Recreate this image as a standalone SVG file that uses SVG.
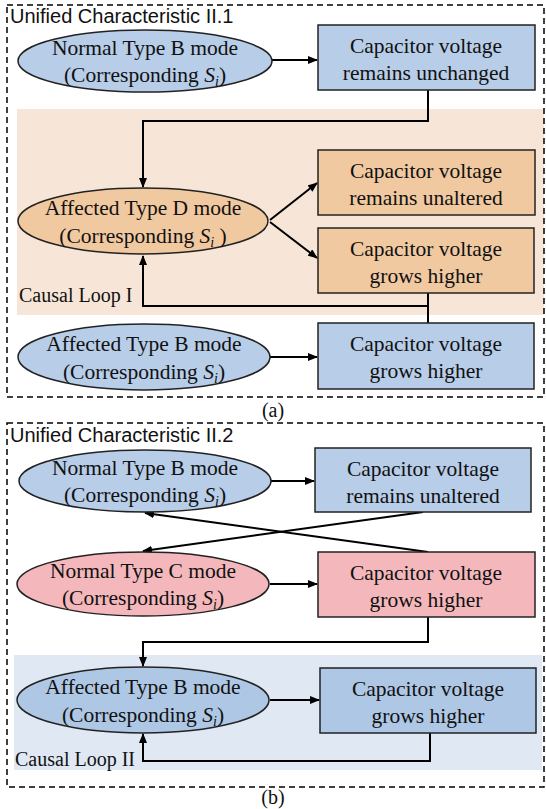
<svg xmlns="http://www.w3.org/2000/svg" width="546" height="809" viewBox="0 0 546 809">
<defs>
<marker id="ah" markerWidth="10" markerHeight="8" refX="9" refY="4" orient="auto" markerUnits="userSpaceOnUse">
<path d="M0,0 L10,4 L0,8 Z" fill="#000"/>
</marker>
<style>
.frame{fill:none;stroke:#000;stroke-width:1.5;stroke-dasharray:6,4}
.t{font-family:"Liberation Serif","Times New Roman",serif;font-size:21.5px;fill:#111;text-anchor:middle}
.lab{font-family:"Liberation Serif","Times New Roman",serif;font-size:20px;fill:#111}
.title{font-family:"Liberation Sans",Arial,sans-serif;font-size:20px;fill:#111}
.node{stroke:#222;stroke-width:1.5}
.blue{fill:#b8cde8}
.blue2{fill:#aec7e5}
.orange{fill:#f1c9a1}
.pink{fill:#f4b8bc}
.c{fill:none;stroke:#000;stroke-width:2}
.ca{fill:none;stroke:#000;stroke-width:2;marker-end:url(#ah)}
</style>
</defs>
<rect width="546" height="809" fill="#fff"/>

<!-- Panel (a) -->
<rect x="17" y="109" width="527" height="206" fill="#f7e6d8"/>
<rect class="frame" x="7" y="5" width="537" height="392"/>
<text class="title" x="10" y="23">Unified Characteristic II.1</text>
<text class="lab" x="19" y="302">Causal Loop I</text>
<text class="lab" x="273" y="417" text-anchor="middle" font-size="21">(a)</text>

<!-- Panel (b) -->
<rect x="14" y="655" width="528" height="115" fill="#dfe8f3"/>
<rect class="frame" x="7" y="423" width="537" height="364"/>
<text class="title" x="10" y="442">Unified Characteristic II.2</text>
<text class="lab" x="15" y="766">Causal Loop II</text>
<text class="lab" x="273" y="804" text-anchor="middle" font-size="21">(b)</text>

<g id="connectors">
<line class="ca" x1="272" y1="60" x2="317" y2="60"/>
<polyline class="ca" points="428,90 428,121 143,121 143,187"/>
<line class="ca" x1="270" y1="220" x2="317" y2="183"/>
<line class="ca" x1="270" y1="222" x2="317" y2="258"/>
<polyline class="ca" points="428,293 428,306 143,306 143,256"/>
<line class="c" x1="428" y1="306" x2="428" y2="323"/>
<line class="ca" x1="270" y1="357" x2="317" y2="357"/>

<line class="ca" x1="271" y1="481" x2="314" y2="481"/>
<line class="ca" x1="423" y1="512" x2="143" y2="551"/>
<line class="ca" x1="428" y1="552" x2="145" y2="513"/>
<line class="ca" x1="270" y1="584" x2="317" y2="584"/>
<polyline class="ca" points="428,617 428,642 143,642 143,666"/>
<line class="ca" x1="270" y1="700" x2="319" y2="700"/>
<polyline class="ca" points="430,733 430,761 143,761 143,734"/>
</g>

<g id="a-normalB">
<ellipse class="node blue" cx="145" cy="61" rx="127" ry="31"/>
<text class="t" x="145" y="55">Normal Type B mode</text>
<text class="t" x="145" y="82">(Corresponding <tspan font-style="italic">S</tspan><tspan font-style="italic" font-size="14" dy="4">i</tspan><tspan dy="-4">)</tspan></text>
</g>
<g id="a-box-unchanged">
<rect class="node blue" x="318" y="25" width="217" height="65"/>
<text class="t" x="426" y="53">Capacitor voltage</text>
<text class="t" x="426" y="80">remains unchanged</text>
</g>
<g id="a-affectedD">
<ellipse class="node orange" cx="143" cy="221" rx="125" ry="33"/>
<text class="t" x="143" y="215">Affected Type D mode</text>
<text class="t" x="143" y="243">(Corresponding <tspan font-style="italic">S</tspan><tspan font-style="italic" font-size="14" dy="4">i</tspan><tspan dy="-4"> )</tspan></text>
</g>
<g id="a-box-unaltered">
<rect class="node orange" x="318" y="150" width="217" height="65"/>
<text class="t" x="426" y="178">Capacitor voltage</text>
<text class="t" x="426" y="205">remains unaltered</text>
</g>
<g id="a-box-grows1">
<rect class="node orange" x="318" y="228" width="216" height="65"/>
<text class="t" x="426" y="256">Capacitor voltage</text>
<text class="t" x="426" y="283">grows higher</text>
</g>
<g id="a-affectedB">
<ellipse class="node blue" cx="144" cy="357" rx="126" ry="33"/>
<text class="t" x="144" y="351">Affected Type B mode</text>
<text class="t" x="144" y="379">(Corresponding <tspan font-style="italic">S</tspan><tspan font-style="italic" font-size="14" dy="4">i</tspan><tspan dy="-4">)</tspan></text>
</g>
<g id="a-box-grows2">
<rect class="node blue" x="318" y="323" width="216" height="66"/>
<text class="t" x="426" y="351">Capacitor voltage</text>
<text class="t" x="426" y="378">grows higher</text>
</g>

<g id="b-normalB">
<ellipse class="node blue" cx="145" cy="481" rx="126" ry="31"/>
<text class="t" x="145" y="475">Normal Type B mode</text>
<text class="t" x="145" y="502">(Corresponding <tspan font-style="italic">S</tspan><tspan font-style="italic" font-size="14" dy="4">i</tspan><tspan dy="-4">)</tspan></text>
</g>
<g id="b-box-unaltered">
<rect class="node blue" x="315" y="448" width="216" height="64"/>
<text class="t" x="423" y="476">Capacitor voltage</text>
<text class="t" x="423" y="503">remains unaltered</text>
</g>
<g id="b-normalC">
<ellipse class="node pink" cx="143" cy="584" rx="126" ry="32"/>
<text class="t" x="143" y="578">Normal Type C mode</text>
<text class="t" x="143" y="605">(Corresponding <tspan font-style="italic">S</tspan><tspan font-style="italic" font-size="14" dy="4">i</tspan><tspan dy="-4">)</tspan></text>
</g>
<g id="b-box-grows1">
<rect class="node pink" x="318" y="552" width="217" height="65"/>
<text class="t" x="426" y="580">Capacitor voltage</text>
<text class="t" x="426" y="607">grows higher</text>
</g>
<g id="b-affectedB">
<ellipse class="node blue2" cx="143" cy="700" rx="126" ry="33"/>
<text class="t" x="143" y="694">Affected Type B mode</text>
<text class="t" x="143" y="722">(Corresponding <tspan font-style="italic">S</tspan><tspan font-style="italic" font-size="14" dy="4">i</tspan><tspan dy="-4">)</tspan></text>
</g>
<g id="b-box-grows2">
<rect class="node blue2" x="320" y="668" width="216" height="65"/>
<text class="t" x="428" y="696">Capacitor voltage</text>
<text class="t" x="428" y="723">grows higher</text>
</g>
</svg>
